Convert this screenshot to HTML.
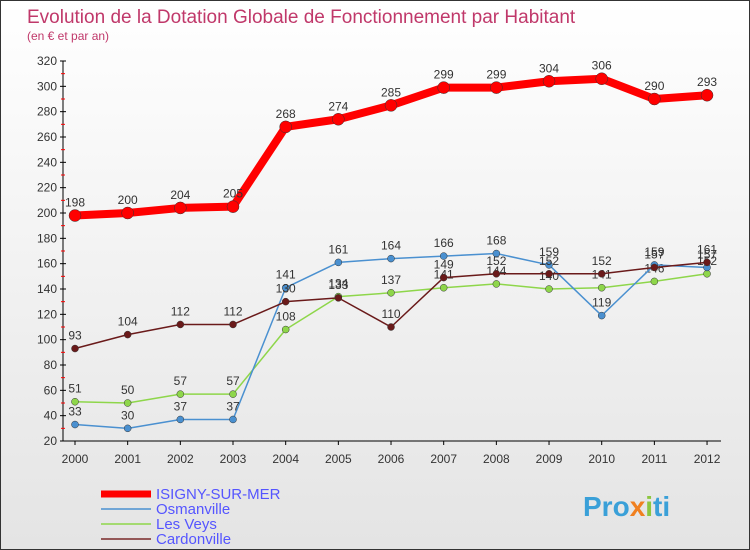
<!DOCTYPE html>
<html><head><meta charset="utf-8"><style>
body{margin:0}
#c{width:748px;height:548px;border:1px solid #333;background:linear-gradient(#fff,#e4e4e4);position:relative;font-family:"Liberation Sans",sans-serif;overflow:hidden}
</style></head><body>
<div id="c">
<svg width="748" height="548" id="svg">
<text x="26" y="22" font-size="19" fill="#c0386a">Evolution de la Dotation Globale de Fonctionnement par Habitant</text>
<text x="26" y="39" font-size="12" fill="#c0386a">(en € et par an)</text>
<g id="axes"></g><g id="series"></g>
<g>
<line x1="100" y1="493" x2="150" y2="493" stroke="#f00" stroke-width="7"/>
<text x="155" y="498" font-size="15" fill="#55f">ISIGNY-SUR-MER</text>
<line x1="100" y1="508" x2="150" y2="508" stroke="#4a90d0" stroke-width="1.5"/>
<text x="155" y="513" font-size="15" fill="#55f">Osmanville</text>
<line x1="100" y1="523" x2="150" y2="523" stroke="#8ed64a" stroke-width="1.5"/>
<text x="155" y="528" font-size="15" fill="#55f">Les Veys</text>
<line x1="100" y1="538" x2="150" y2="538" stroke="#7a2a2a" stroke-width="1.5"/>
<text x="155" y="543" font-size="15" fill="#55f">Cardonville</text>
</g>
<text x="582" y="515" font-size="28" font-weight="bold" fill="#3aa0d8">Pro<tspan fill="#f08020">x</tspan><tspan fill="#8cc63f">i</tspan>ti</text>
</svg></div>
<script>
const years=[2000,2001,2002,2003,2004,2005,2006,2007,2008,2009,2010,2011,2012];
const isigny=[198,200,204,205,268,274,285,299,299,304,306,290,293];
const osmanville=[33,30,37,37,141,161,164,166,168,159,119,159,157];
const lesVeys=[51,50,57,57,108,134,137,141,144,140,141,146,152];
const cardonville=[93,104,112,112,130,133,110,149,152,152,152,157,161];
const yTicks=[20,40,60,80,100,120,140,160,180,200,220,240,260,280,300,320];
const NS="http://www.w3.org/2000/svg";
const X=i=>74+i*52.67, Y=v=>440-(v-20)*380/300;
function el(t,a,p){const e=document.createElementNS(NS,t);for(const k in a)e.setAttribute(k,a[k]);p.appendChild(e);return e;}
const ax=document.getElementById('axes'),sg=document.getElementById('series');
const yl=el('line',{x1:62,y1:Y(320),x2:62,y2:Y(20),stroke:'#000'},ax);


const xl=el('line',{x1:62,y1:Y(20),x2:720,y2:Y(20),stroke:'#000'},ax);


yTicks.forEach((v,i)=>{
  el('line',{x1:59,y1:Y(v),x2:65,y2:Y(v),stroke:'#000'},ax);
  if(i<yTicks.length-1)el('line',{x1:60,y1:Y(v+10),x2:64,y2:Y(v+10),stroke:'#f00'},ax);
  const t=el('text',{x:56,y:Y(v)+4,'font-size':12,fill:'#333','text-anchor':'end'},ax);
  t.textContent=v;
  
  
});
years.forEach((y,i)=>{
  el('line',{x1:X(i),y1:440,x2:X(i),y2:444,stroke:'#000'},ax);
  const t=el('text',{x:X(i),y:462,'font-size':12,fill:'#333','text-anchor':'middle'},ax);
  t.textContent=y;
  
  
});
function series(d,col,w,r,name){
  const g=el('g',{},sg);
  
  
  const p=el('polyline',{points:d.map((v,i)=>X(i)+','+Y(v)).join(' '),fill:'none',stroke:col,'stroke-width':w,'stroke-linejoin':'round'},g);
  
  
  d.forEach((v,i)=>{
    const c=el('circle',{cx:X(i),cy:Y(v),r:r,fill:col,stroke:'#333','stroke-width':0.5},g);
    
    
    const t=el('text',{x:X(i),y:Y(v)-9,'font-size':12,fill:'#333','text-anchor':'middle'},g);
    t.textContent=v;
    
    
  });
}
series(lesVeys,'#8ed64a',1.5,3.5,'les-veys');
series(osmanville,'#4a90d0',1.5,3.5,'osmanville');
series(cardonville,'#6a1a1a',1.5,3.5,'cardonville');
series(isigny,'#f00',8,6,'isigny');
</script>
</body></html>
